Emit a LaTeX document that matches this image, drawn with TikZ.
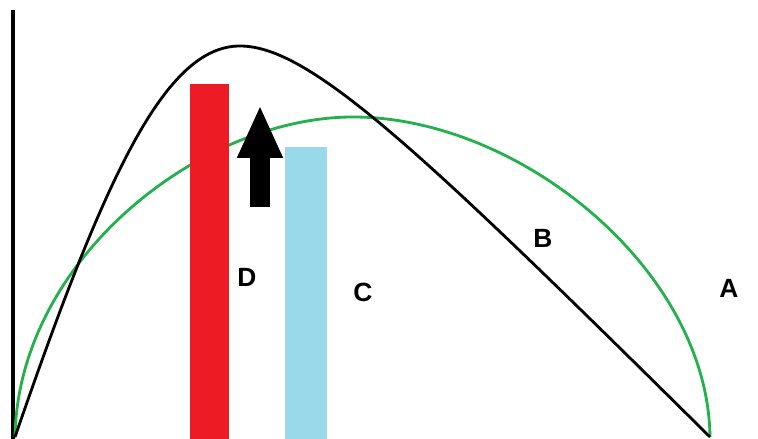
\documentclass[tikz,border=0pt]{standalone}
\usepackage{fontspec}
\setmainfont{Liberation Sans}
\usetikzlibrary{arrows.meta}
\definecolor{pred}{RGB}{237,28,36}
\definecolor{pblue}{RGB}{153,217,234}
\definecolor{pgreen}{RGB}{34,177,76}
\begin{document}
\begin{tikzpicture}[x=0.02cm,y=-0.02cm,
  lbl/.style={font=\bfseries\fontsize{15}{15}\selectfont,inner sep=0pt}]
\useasboundingbox (0,0) rectangle (758,439);

% axis
\draw[line width=2.3pt] (13,10) -- (13,439);

% curves
\draw[pgreen,line width=1.6pt] (15,437) .. controls (18,260) and (200,117) .. (353,117)
  .. controls (520,117) and (708,270) .. (710,437);
\draw[line width=1.6pt] (15,437) .. controls (105,176) and (165,46) .. (240,46)
  .. controls (310,46) and (420,150) .. (710,437);

% bars
\fill[pred] (190,84) rectangle (229,439);
\fill[pblue] (285,147) rectangle (327,439);

% arrow
\coordinate (tail) at (260,207);
\coordinate (tip) at (260,105);
\draw[line width=0.42cm,-{Triangle[width=0.84cm,length=1.06cm]}] (tail) -- (tip);

% labels
\node[lbl] (d) at (247,277) {D};
\node[lbl] (c) at (363,292) {C};
\node[lbl] (b) at (543,238) {B};
\node[lbl] (a) at (729,288) {A};
\end{tikzpicture}
\end{document}
